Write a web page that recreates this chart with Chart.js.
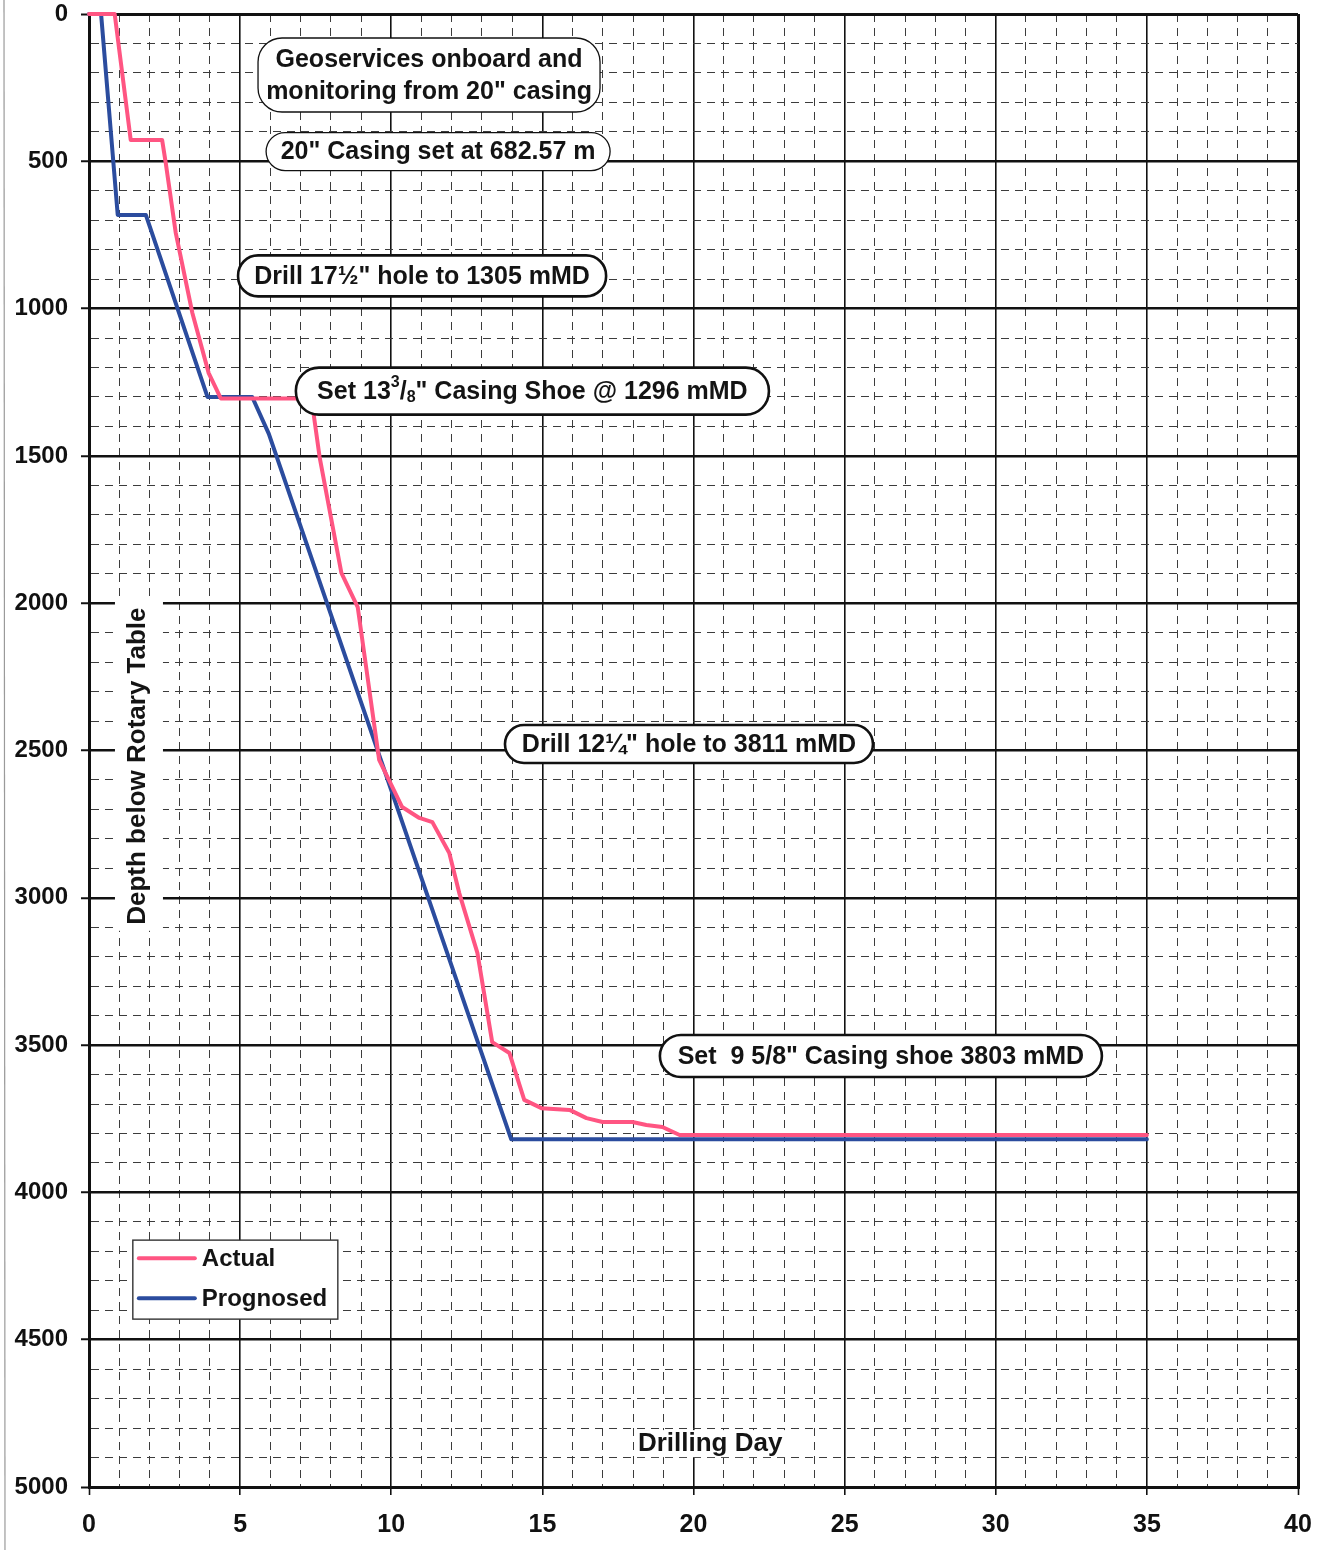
<!DOCTYPE html>
<html>
<head>
<meta charset="utf-8">
<script src="https://cdn.jsdelivr.net/npm/chart.js@4.4.1/dist/chart.umd.min.js"></script>
<style>
  html, body { margin: 0; padding: 0; background: #fff; }
  #wrap { position: relative; width: 1322px; height: 1550px; }
  canvas { display: block; }
</style>
</head>
<body>
<div id="wrap"><canvas id="c" width="1322" height="1550"></canvas></div>
<script>
// ---------------- DATA ----------------
const seriesNames = ['Actual', 'Prognosed'];

const actualDays  = [0, 0.85, 1.38, 2.42, 2.54, 2.87, 3.42, 3.96, 4.36, 7.36, 7.63, 8.35, 8.89, 9.6, 10.36, 10.93, 11.36, 11.92, 12.25, 12.85, 13.34, 13.91, 14.4, 14.97, 15.9, 16.46, 16.99, 17.98, 18.44, 18.97, 19.54, 35];
const actualDepth = [0, 0, 428, 428, 506, 743, 1015, 1219, 1305, 1305, 1504, 1897, 2013, 2532, 2692, 2729, 2743, 2848, 2984, 3187, 3490, 3527, 3686, 3714, 3720, 3748, 3761, 3761, 3771, 3778, 3805, 3805];

const prognosedDays  = [0, 0.4, 0.95, 1.88, 3.92, 5.4, 5.95, 13.97, 35];
const prognosedDepth = [0, 0, 682, 682, 1300, 1300, 1425, 3820, 3820];

const xTickLabels = [0, 5, 10, 15, 20, 25, 30, 35, 40];
const yTickLabels = [0, 500, 1000, 1500, 2000, 2500, 3000, 3500, 4000, 4500, 5000];

const xTitle = 'Drilling Day';
const yTitle = 'Depth below Rotary Table';

const annotationLabels = [
  ['Geoservices onboard and', 'monitoring from 20" casing'],
  ['20" Casing set at 682.57 m'],
  ['Drill 17\u00BD" hole to 1305 mMD'],
  [[{t: 'Set 13'}, {t: '3', s: 'sup'}, {t: '/'}, {t: '8', s: 'sub'}, {t: '" Casing Shoe @ 1296 mMD'}]],
  ['Drill 12\u00BC" hole to 3811 mMD'],
  ['Set  9 5/8" Casing shoe 3803 mMD']
];

// ---------------- LAYOUT / STYLE ----------------
const FONT = '"Liberation Sans", Arial, Helvetica, sans-serif';
const PINK = '#ff5582';
const BLUE = '#2b4c9e';

// anchors in (day, depth) units, box sizes in px
const annotationAnchors = [[11.25, 207], [11.55, 467], [11.02, 889], [14.67, 1280], [19.85, 2478], [26.2, 3537]];
const annotationBoxes = [
  {w: 342, h: 74, r: 24, lw: 1.3},
  {w: 344, h: 38, r: 19, lw: 1.3},
  {w: 368, h: 41, r: 20, lw: 2.6},
  {w: 473, h: 47, r: 23, lw: 2.6},
  {w: 368, h: 38, r: 19, lw: 2.6},
  {w: 442, h: 42, r: 21, lw: 2.6}
];
const yTitleAnchor = [1.62, 2553];
const xTitleAnchor = [20.55, 4851];
const legendAnchor = [1.45, 4162];

function drawRich(ctx, segs, cx, cy, size) {
  const big = `bold ${size}px ${FONT}`;
  const small = `bold ${Math.round(size * 0.62)}px ${FONT}`;
  let total = 0;
  segs.forEach(s => { ctx.font = s.s ? small : big; s.w = ctx.measureText(s.t).width; total += s.w; });
  let x = cx - total / 2;
  ctx.textAlign = 'left';
  segs.forEach(s => {
    ctx.font = s.s ? small : big;
    let dy = 0;
    if (s.s === 'sup') dy = -size * 0.36;
    if (s.s === 'sub') dy = size * 0.22;
    ctx.fillText(s.t, x, cy + dy);
    x += s.w;
  });
}

const overlay = {
  id: 'overlay',
  afterDatasetsDraw(chart) {
    const {ctx, scales: {x, y}} = chart;
    ctx.save();

    // page edge line
    ctx.strokeStyle = '#9a9a9a';
    ctx.lineWidth = 1.2;
    ctx.beginPath(); ctx.moveTo(4, 0); ctx.lineTo(5, 1550); ctx.stroke();

    ctx.fillStyle = '#111';
    ctx.textBaseline = 'middle';

    // annotation boxes
    annotationLabels.forEach((lines, i) => {
      const b = annotationBoxes[i];
      const cx = x.getPixelForValue(annotationAnchors[i][0]);
      const cy = y.getPixelForValue(annotationAnchors[i][1]);
      ctx.beginPath();
      ctx.roundRect(cx - b.w / 2, cy - b.h / 2, b.w, b.h, b.r);
      ctx.fillStyle = '#fff';
      ctx.fill();
      ctx.lineWidth = b.lw;
      ctx.strokeStyle = '#111';
      ctx.stroke();
      ctx.fillStyle = '#141414';
      const lh = 32;
      lines.forEach((ln, k) => {
        const ty = cy + (k - (lines.length - 1) / 2) * lh + 1;
        if (Array.isArray(ln)) {
          drawRich(ctx, ln, cx, ty, 25);
        } else {
          ctx.font = `bold 25px ${FONT}`;
          ctx.textAlign = 'center';
          ctx.fillText(ln, cx, ty);
        }
      });
    });

    // y title with white backdrop
    ctx.font = `bold 26px ${FONT}`;
    const tw = ctx.measureText(yTitle).width;
    const ycx = x.getPixelForValue(yTitleAnchor[0]);
    const ycy = y.getPixelForValue(yTitleAnchor[1]);
    ctx.fillStyle = '#fff';
    ctx.fillRect(ycx - 23, ycy - tw / 2 - 6, 48, tw + 12);
    ctx.save();
    ctx.translate(ycx, ycy);
    ctx.rotate(-Math.PI / 2);
    ctx.textAlign = 'center';
    ctx.fillStyle = '#141414';
    ctx.fillText(yTitle, 0, 0);
    ctx.restore();

    // x title
    const xw = ctx.measureText(xTitle).width;
    const xcx = x.getPixelForValue(xTitleAnchor[0]);
    const xcy = y.getPixelForValue(xTitleAnchor[1]);
    ctx.fillStyle = '#fff';
    ctx.fillRect(xcx - xw / 2 - 3, xcy - 13, xw + 6, 27);
    ctx.fillStyle = '#141414';
    ctx.textAlign = 'center';
    ctx.fillText(xTitle, xcx, xcy + 1);

    // legend
    const lx = x.getPixelForValue(legendAnchor[0]);
    const ly = y.getPixelForValue(legendAnchor[1]);
    const lw = 205, lh2 = 79;
    ctx.fillStyle = '#fff';
    ctx.fillRect(lx, ly, lw, lh2);
    ctx.strokeStyle = '#333';
    ctx.lineWidth = 1.4;
    ctx.strokeRect(lx, ly, lw, lh2);
    const colors = [PINK, BLUE];
    seriesNames.forEach((nm, k) => {
      const yy = ly + 18 + k * 40;
      ctx.strokeStyle = colors[k];
      ctx.lineWidth = 4;
      ctx.lineCap = 'round';
      ctx.beginPath(); ctx.moveTo(lx + 6, yy); ctx.lineTo(lx + 62, yy); ctx.stroke();
      ctx.fillStyle = '#141414';
      ctx.font = `bold 24px ${FONT}`;
      ctx.textAlign = 'left';
      ctx.fillText(nm, lx + 69, yy + 1);
    });

    ctx.restore();
  }
};

const toPts = (xs, ys) => xs.map((d, i) => ({x: d, y: ys[i]}));

new Chart(document.getElementById('c'), {
  type: 'scatter',
  data: {
    datasets: [
      {label: seriesNames[0], data: toPts(actualDays, actualDepth), showLine: true, borderColor: PINK, backgroundColor: PINK, borderWidth: 4, pointRadius: 0, tension: 0, clip: false, order: 1, borderJoinStyle: 'round', borderCapStyle: 'round'},
      {label: seriesNames[1], data: toPts(prognosedDays, prognosedDepth), showLine: true, borderColor: BLUE, backgroundColor: BLUE, borderWidth: 4, pointRadius: 0, tension: 0, clip: false, order: 2, borderJoinStyle: 'round', borderCapStyle: 'round'}
    ]
  },
  options: {
    responsive: false,
    animation: false,
    layout: {padding: {left: 0, right: 24, top: 0, bottom: 0}},
    plugins: {legend: {display: false}, tooltip: {enabled: false}, title: {display: false}},
    scales: {
      x: {
        type: 'linear', min: 0, max: 40,
        afterFit: s => { s.height = 63; s.paddingLeft = 0; s.paddingRight = 0; },
        ticks: {
          stepSize: 1, autoSkip: false, maxRotation: 0, padding: 15,
          color: '#111', font: {family: FONT, size: 25, weight: 'bold'},
          callback: v => xTickLabels.includes(v) ? String(v) : ''
        },
        grid: {
          color: c => (c.tick && c.tick.value % 5 === 0) ? '#111' : '#3c3c3c',
          lineWidth: c => { const v = c.tick ? c.tick.value : 0; if (v === 0 || v === 40) return 3; return v % 5 === 0 ? 1.6 : 1; },
          tickColor: c => (c.tick && c.tick.value % 5 === 0) ? '#111' : 'rgba(0,0,0,0)',
          tickLength: 8, tickWidth: 1.6
        },
        border: {display: true, color: '#111', width: 3, dash: c => (c.tick && c.tick.value % 5 !== 0) ? [8, 6] : []}
      },
      y: {
        type: 'linear', min: 0, max: 5000, reverse: true,
        afterFit: s => { s.width = 89; s.paddingTop = 14; s.paddingBottom = 0; },
        ticks: {
          stepSize: 100, autoSkip: false, padding: 13,
          color: '#111', font: {family: FONT, size: 24, weight: 'bold'},
          callback: v => yTickLabels.includes(v) ? String(v) : ''
        },
        grid: {
          color: c => (c.tick && c.tick.value % 500 === 0) ? '#111' : '#3c3c3c',
          lineWidth: c => { const v = c.tick ? c.tick.value : 0; if (v === 0 || v === 5000) return 3; return v % 500 === 0 ? 2.5 : 1; },
          tickColor: c => (c.tick && c.tick.value % 500 === 0) ? '#111' : 'rgba(0,0,0,0)',
          tickLength: 8, tickWidth: 2
        },
        border: {display: true, color: '#111', width: 3, dash: c => (c.tick && c.tick.value % 500 !== 0) ? [8, 6] : []}
      }
    }
  },
  plugins: [overlay]
});
</script>
</body>
</html>
